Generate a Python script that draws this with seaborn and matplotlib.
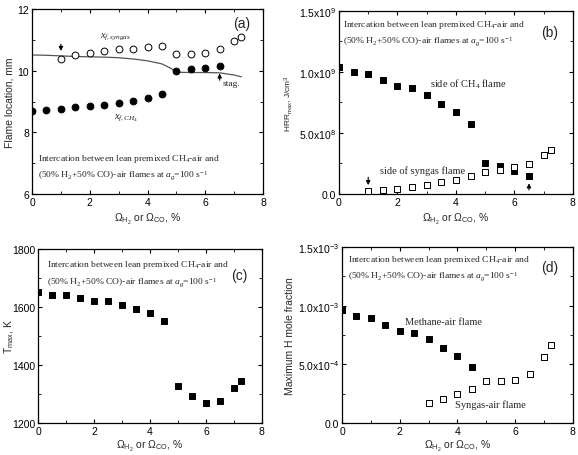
import numpy as np
import pandas as pd
import matplotlib
matplotlib.use("Agg")
import matplotlib.pyplot as plt
import seaborn as sns
from matplotlib.ticker import MultipleLocator, FixedLocator

sns.set_theme(style="ticks")
plt.rcParams['font.family'] = ['Liberation Sans', 'DejaVu Sans']
plt.rcParams['mathtext.fontset'] = 'custom'
plt.rcParams['mathtext.rm'] = 'Liberation Serif'
plt.rcParams['mathtext.it'] = 'Liberation Serif:italic'
plt.rcParams['mathtext.default'] = 'regular'

# ---------------- data ----------------
omega_all = [0, 0.5, 1, 1.5, 2, 2.5, 3, 3.5, 4, 4.5, 5, 5.5, 6, 6.5, 7, 7.25]

# (a) flame location
a_ch4_x = [0, 0.5, 1, 1.5, 2, 2.5, 3, 3.5, 4, 4.5, 5, 5.5, 6, 6.5]
a_ch4_y = [8.69, 8.72, 8.76, 8.82, 8.86, 8.89, 8.95, 9.02, 9.10, 9.23, 10.0, 10.05, 10.10, 10.14]
a_syn_x = [1, 1.5, 2, 2.5, 3, 3.5, 4, 4.5, 5, 5.5, 6, 6.5, 7, 7.25]
a_syn_y = [10.38, 10.51, 10.57, 10.63, 10.70, 10.69, 10.76, 10.81, 10.54, 10.54, 10.57, 10.70, 10.95, 11.10]
a_stag_x = [0, 0.5, 1, 1.5, 2, 2.5, 3, 3.5, 4, 4.5, 4.8, 5, 5.5, 6, 6.5, 7, 7.25]
a_stag_y = [10.51, 10.50, 10.48, 10.46, 10.45, 10.44, 10.42, 10.38, 10.32, 10.22, 10.08, 9.95, 9.94, 9.94, 9.93, 9.86, 9.80]

# (b) max heat release rate
b_ch4_x = [0, 0.5, 1, 1.5, 2, 2.5, 3, 3.5, 4, 4.5, 5, 5.5, 6, 6.5]
b_ch4_y = [1.04e9, 1.00e9, 0.986e9, 0.93e9, 0.887e9, 0.868e9, 0.813e9, 0.741e9, 0.675e9, 0.576e9,
           0.25e9, 0.226e9, 0.185e9, 0.146e9]
b_syn_x = [1, 1.5, 2, 2.5, 3, 3.5, 4, 4.5, 5, 5.5, 6, 6.5, 7, 7.25]
b_syn_y = [0.022e9, 0.036e9, 0.044e9, 0.060e9, 0.077e9, 0.096e9, 0.118e9, 0.146e9, 0.179e9,
           0.198e9, 0.218e9, 0.242e9, 0.317e9, 0.364e9]

# (c) max temperature
c_x = omega_all
c_y = [1650, 1642, 1642, 1629, 1621, 1621, 1608, 1594, 1578, 1553, 1326, 1293, 1270, 1276, 1321, 1346]

# (d) max H mole fraction
d_ch4_x = [0, 0.5, 1, 1.5, 2, 2.5, 3, 3.5, 4, 4.5]
d_ch4_y = [0.959e-3, 0.911e-3, 0.897e-3, 0.833e-3, 0.788e-3, 0.768e-3, 0.712e-3, 0.642e-3, 0.572e-3, 0.477e-3]
d_syn_x = [3, 3.5, 4, 4.5, 5, 5.5, 6, 6.5, 7, 7.25]
d_syn_y = [0.168e-3, 0.205e-3, 0.244e-3, 0.289e-3, 0.353e-3, 0.359e-3, 0.367e-3, 0.415e-3, 0.558e-3, 0.664e-3]

xlabel = r"$\Omega_{H_2}$ or $\Omega_{CO}$, %"
note1 = r"Intercation between lean premixed CH$_4$-air and"
note2 = r"(50% H$_2$+50% CO)-air flames at $\mathit{a}_\mathit{g}$=100 s$^{-1}$"

SERIF = 'Liberation Serif'
TFS = 7.5
NFS = 6.8

fig = plt.figure(figsize=(5.78, 4.56), dpi=100)
axa = fig.add_axes([0.0554, 0.5724, 0.3996, 0.4056])
axb = fig.add_axes([0.5865, 0.5724, 0.4045, 0.4016])
axc = fig.add_axes([0.066, 0.0705, 0.387, 0.3815])
axd = fig.add_axes([0.5917, 0.0705, 0.3993, 0.3855])


def style(ax, xlab_y):
    ax.set_xlim(0, 8)
    ax.xaxis.set_major_locator(MultipleLocator(2))
    ax.xaxis.set_minor_locator(MultipleLocator(1))
    ax.tick_params(which='both', direction='in', top=True, right=True,
                   labelsize=TFS, colors='black', pad=2)
    ax.tick_params(which='major', length=3, width=0.8)
    ax.tick_params(which='minor', length=2, width=0.6)
    for s in ax.spines.values():
        s.set_linewidth(0.9)
        s.set_color('black')
    ax.set_xlabel(xlabel, fontsize=TFS)
    ax.xaxis.set_label_coords(0.5, xlab_y)


def sq(ax, x, y, filled, zorder=3):
    sns.scatterplot(x=x, y=y, ax=ax, marker='s', s=20,
                    color='black' if filled else 'white',
                    edgecolor='black',
                    linewidth=0.7, zorder=zorder, legend=False)


# ---------- (a) ----------
style(axa, -0.09)
sns.lineplot(x=a_stag_x, y=a_stag_y, ax=axa, color='#555555', linewidth=0.9, zorder=2)
sns.scatterplot(x=a_syn_x, y=a_syn_y, ax=axa, marker='o', s=24, color='white',
                edgecolor='black', linewidth=0.7, zorder=3, legend=False)
sns.scatterplot(x=a_ch4_x, y=a_ch4_y, ax=axa, marker='o', s=24, color='black',
                edgecolor='black', linewidth=0.7, zorder=3, legend=False)
axa.set_ylim(6, 12)
axa.yaxis.set_major_locator(MultipleLocator(2))
axa.yaxis.set_minor_locator(MultipleLocator(1))
axa.set_ylabel("Flame location, mm", fontsize=TFS, labelpad=2)
axa.text(7.25, 11.55, "(a)", fontsize=10, ha='center', va='center')
axa.text(2.35, 11.08, r"$\mathit{x_{f,syngas}}$", fontsize=7.5, fontfamily=SERIF)
axa.text(2.85, 8.45, r"$\mathit{x_{f,CH_4}}$", fontsize=7.5, fontfamily=SERIF)
axa.text(6.6, 9.55, "stag.", fontsize=6.8, fontfamily=SERIF)
axa.annotate("", xy=(1, 10.55), xytext=(1, 10.95),
             arrowprops=dict(arrowstyle='-|>', color='black', lw=0.8, mutation_scale=6))
axa.annotate("", xy=(6.5, 10.0), xytext=(6.5, 9.6),
             arrowprops=dict(arrowstyle='-|>', color='black', lw=0.8, mutation_scale=6))
axa.text(0.22, 7.1, note1, fontsize=NFS, fontfamily=SERIF)
axa.text(0.22, 6.55, note2, fontsize=NFS, fontfamily=SERIF)

# ---------- (b) ----------
style(axb, -0.09)
sq(axb, b_ch4_x, b_ch4_y, True, 3)
sq(axb, b_syn_x, b_syn_y, False, 4)
axb.set_ylim(0, 1.5e9)
axb.yaxis.set_major_locator(FixedLocator([0, 0.5e9, 1.0e9, 1.5e9]))
axb.yaxis.set_minor_locator(MultipleLocator(0.25e9))
axb.set_yticklabels(["0.0", r"5.0x10$^8$", r"1.0x10$^9$", r"1.5x10$^9$"])
axb.set_ylabel(r"HRR$_{max}$, J/cm$^3$", fontsize=6, labelpad=3)
axb.text(7.2, 1.33e9, "(b)", fontsize=10, ha='center', va='center')
axb.text(0.15, 1.38e9, note1, fontsize=NFS, fontfamily=SERIF)
axb.text(0.15, 1.24e9, note2, fontsize=NFS, fontfamily=SERIF)
axb.text(3.1, 0.88e9, r"side of CH$_4$ flame", fontsize=7.5, fontfamily=SERIF)
axb.text(1.4, 0.175e9, "side of syngas flame", fontsize=7.5, fontfamily=SERIF)
axb.annotate("", xy=(1, 0.05e9), xytext=(1, 0.16e9),
             arrowprops=dict(arrowstyle='-|>', color='black', lw=0.8, mutation_scale=6))
axb.annotate("", xy=(6.5, 0.11e9), xytext=(6.5, 0.01e9),
             arrowprops=dict(arrowstyle='-|>', color='black', lw=0.8, mutation_scale=6))

# ---------- (c) ----------
style(axc, -0.085)
sq(axc, c_x, c_y, True)
axc.set_ylim(1200, 1800)
axc.yaxis.set_major_locator(MultipleLocator(200))
axc.yaxis.set_minor_locator(MultipleLocator(100))
axc.set_ylabel(r"T$_{max}$, K", fontsize=TFS)
axc.yaxis.set_label_coords(-0.1, 0.5)
axc.text(7.2, 1710, "(c)", fontsize=10, ha='center', va='center')
axc.text(0.3, 1740, note1, fontsize=NFS, fontfamily=SERIF)
axc.text(0.3, 1680, note2, fontsize=NFS, fontfamily=SERIF)

# ---------- (d) ----------
style(axd, -0.085)
sq(axd, d_ch4_x, d_ch4_y, True)
sq(axd, d_syn_x, d_syn_y, False)
axd.set_ylim(0, 1.5e-3)
axd.yaxis.set_major_locator(FixedLocator([0, 0.5e-3, 1.0e-3, 1.5e-3]))
axd.yaxis.set_minor_locator(MultipleLocator(0.25e-3))
axd.set_yticklabels(["0.0", r"5.0x10$^{-4}$", r"1.0x10$^{-3}$", r"1.5x10$^{-3}$"])
axd.set_ylabel("Maximum H mole fraction", fontsize=TFS, labelpad=2)
axd.text(7.2, 1.33e-3, "(d)", fontsize=10, ha='center', va='center')
axd.text(0.2, 1.38e-3, note1, fontsize=NFS, fontfamily=SERIF)
axd.text(0.2, 1.24e-3, note2, fontsize=NFS, fontfamily=SERIF)
axd.text(2.2, 0.84e-3, "Methane-air flame", fontsize=7.5, fontfamily=SERIF)
axd.text(3.9, 0.135e-3, "Syngas-air flame", fontsize=7.5, fontfamily=SERIF)

fig.savefig("out.png", dpi=100)
